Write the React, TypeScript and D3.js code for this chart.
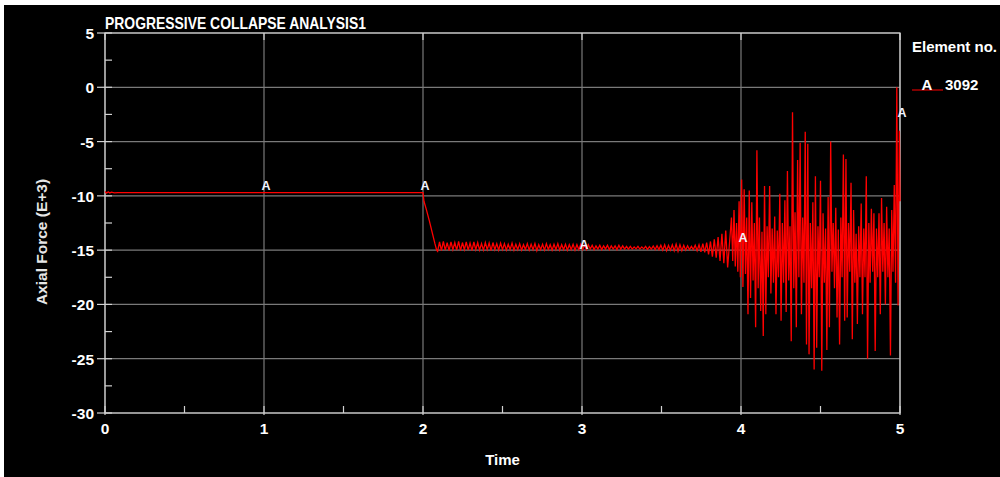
import React, { useEffect, useRef } from 'react';
import * as d3 from 'd3';

const chartTitle = 'PROGRESSIVE COLLAPSE ANALYSIS1';
const timeTicks = [0, 1, 2, 3, 4, 5];
const timeMinorTicks = [0.5, 1.5, 2.5, 3.5, 4.5];
const forceTicks = [5, 0, -5, -10, -15, -20, -25, -30];
const forceMinorTicks = [2.5, -2.5, -7.5, -12.5, -17.5, -22.5, -27.5];

// element 3092, axial force (E+3) vs time
const steadyTime = [0, 0.01, 0.02, 0.03, 0.04, 0.06, 0.08, 2.0];
const steadyForce = [-9.6, -9.75, -9.62, -9.74, -9.66, -9.72, -9.7, -9.7];

const dropTime = [2.0, 2.006, 2.02, 2.04, 2.06, 2.075, 2.086];
const dropForce = [-9.7, -10.5, -11.2, -12.3, -13.5, -14.4, -15.0];

// steady oscillation after removal, sampled every 0.012 s from 2.092 s
const oscStart = 2.092;
const oscStep = 0.012;
const oscForce = [
  -15.1, -14.25, -15.05, -14.2, -15.0, -14.3, -15.05, -14.25, -14.95, -14.3,
  -15.0, -14.2, -15.05, -14.3, -14.95, -14.25, -15.0, -14.35, -15.05, -14.25,
  -14.95, -14.3, -15.0, -14.4, -15.0, -14.3, -14.95, -14.35, -15.05, -14.3,
  -14.95, -14.4, -15.0, -14.35, -14.95, -14.4, -15.0, -14.45, -14.95, -14.35,
  -15.0, -14.45, -14.95, -14.4, -15.0, -14.5, -14.95, -14.4, -15.0, -14.45,
  -14.95, -14.4, -15.05, -14.5, -14.95, -14.45, -15.0, -14.4, -14.95, -14.5,
  -15.0, -14.45, -14.95, -14.4, -15.0, -14.5, -14.95, -14.45, -15.0, -14.5,
  -14.95, -14.45, -15.0, -14.5, -14.95, -14.45, -14.95, -14.55, -14.95, -14.5,
  -14.9, -14.55, -14.95, -14.6, -14.9, -14.55, -14.95, -14.6, -14.9, -14.55,
  -14.95, -14.6, -14.9, -14.6, -14.95, -14.55, -14.9, -14.6, -14.9, -14.65,
  -14.9, -14.65, -14.9, -14.7, -14.88, -14.65, -14.9, -14.7, -14.88, -14.65,
  -14.92, -14.68, -14.9, -14.62, -14.95, -14.6, -14.95, -14.55, -15.0, -14.5,
  -15.05, -14.55, -15.0, -14.5, -15.05, -14.45, -15.1, -14.5, -15.05, -14.55,
  -15.0, -14.6, -14.95, -14.65, -14.95, -14.55, -15.05, -14.5, -15.15, -14.4,
  -15.2, -14.3, -15.4, -14.2, -15.6, -14.0, -15.7, -13.8, -16.0, -13.5,
  -16.2, -13.2, -16.6,
];

// collapse response, sampled every 0.008 s from 3.94 s
const chaosStart = 3.94;
const chaosStep = 0.008;
const chaosForce = [
  -12.0, -16.0, -11.3, -16.5, -12.5, -17.0, -10.5, -17.5, -8.5, -18.4,
  -9.4, -17.2, -12.0, -20.9, -9.5, -19.4, -10.6, -17.8, -12.5, -22.1,
  -5.8, -18.5, -12.0, -20.6, -13.3, -22.9, -9.1, -20.9, -12.8, -17.5,
  -9.1, -19.0, -13.0, -18.0, -11.9, -20.9, -13.2, -17.5, -9.8, -21.5,
  -12.5, -18.0, -10.4, -20.7, -7.7, -17.8, -12.8, -23.4, -2.3, -18.5,
  -11.5, -22.1, -6.7, -17.5, -5.1, -20.9, -12.0, -18.0, -4.1, -23.7,
  -5.2, -24.6, -12.5, -18.5, -10.6, -26.0, -8.2, -24.0, -12.8, -17.5,
  -8.6, -26.1, -11.6, -18.0, -13.0, -24.2, -10.1, -22.1, -5.0, -17.0,
  -12.5, -18.5, -11.1, -21.2, -13.1, -23.7, -12.0, -17.5, -6.2, -21.5,
  -6.6, -21.2, -12.5, -17.0, -8.8, -23.2, -11.3, -18.0, -13.5, -21.8,
  -12.8, -17.5, -10.7, -20.9, -13.0, -17.5, -8.2, -25.0, -12.5, -18.0,
  -11.2, -17.0, -11.6, -24.3, -13.0, -17.5, -11.6, -20.9, -10.2, -17.0,
  -12.5, -20.0, -11.0, -17.5, -13.0, -24.7, -11.3, -17.0, -9.0, -18.0,
  0.0, -20.1, -4.0,
];
const endTime = 5.0;
const endForce = -10.5;

const markerLabel = 'A';
const markerTimes = [1, 2, 3, 4, 5];
const markerForces = [-9.4, -9.4, -14.8, -14.2, -2.6];

const legendTitle = 'Element no.';
const legendElement = '3092';

const FONT = '"Liberation Sans", Arial, sans-serif';

export default function App() {
  const svgRef = useRef<SVGSVGElement>(null);
  const width = 1000;
  const height = 477;
  const margin = { top: 33, right: 100, bottom: 65, left: 105 };

  useEffect(() => {
    if (!svgRef.current) return;
    const svg = d3.select(svgRef.current);
    svg.selectAll('*').remove();

    const x = d3.scaleLinear().domain([0, 5]).range([margin.left, width - margin.right]);
    const y = d3.scaleLinear().domain([-30, 5]).range([height - margin.bottom + 1, margin.top]);
    const [x0, x1] = x.range();
    const [y0, y1] = y.range();

    // background
    svg.append('rect').attr('x', 4).attr('y', 5).attr('width', 996).attr('height', 472).attr('fill', '#000');

    // grid
    const grid = svg.append('g').attr('stroke', '#7a7a7a').attr('stroke-width', 1.2);
    timeTicks.forEach((t) => {
      grid.append('line').attr('x1', x(t)).attr('x2', x(t)).attr('y1', y1).attr('y2', y0);
    });
    forceTicks.forEach((f) => {
      grid.append('line').attr('x1', x0).attr('x2', x1).attr('y1', y(f)).attr('y2', y(f));
    });

    // frame and ticks
    const frame = svg.append('g').attr('stroke', '#d2d2d2').attr('stroke-width', 1.2);
    frame.append('rect').attr('x', x0).attr('y', y1).attr('width', x1 - x0).attr('height', y0 - y1).attr('fill', 'none');
    timeTicks.forEach((t) => {
      frame.append('line').attr('x1', x(t)).attr('x2', x(t)).attr('y1', y0 - 7).attr('y2', y0 + 2);
      frame.append('line').attr('x1', x(t)).attr('x2', x(t)).attr('y1', y1).attr('y2', y1 + 7);
    });
    timeMinorTicks.forEach((t) => {
      frame.append('line').attr('x1', x(t)).attr('x2', x(t)).attr('y1', y0 - 7).attr('y2', y0);
    });
    forceTicks.forEach((f) => {
      frame.append('line').attr('x1', x0 - 8).attr('x2', x0 + 7).attr('y1', y(f)).attr('y2', y(f));
    });
    forceMinorTicks.forEach((f) => {
      frame.append('line').attr('x1', x0).attr('x2', x0 + 7).attr('y1', y(f)).attr('y2', y(f));
    });

    // tick labels
    svg.append('g')
      .selectAll('text')
      .data(timeTicks)
      .join('text')
      .attr('x', (d) => x(d))
      .attr('y', y0 + 21)
      .attr('text-anchor', 'middle')
      .text((d) => String(d));
    svg.append('g')
      .selectAll('text')
      .data(forceTicks)
      .join('text')
      .attr('x', x0 - 11)
      .attr('y', (d) => y(d) + 6)
      .attr('text-anchor', 'end')
      .text((d) => String(d));
    svg.selectAll('g text').attr('fill', '#fff').attr('font-family', FONT).attr('font-weight', 'bold').attr('font-size', 15.5);

    // series
    const points: [number, number][] = [];
    steadyTime.forEach((t, i) => points.push([t, steadyForce[i]]));
    dropTime.slice(1).forEach((t, i) => points.push([t, dropForce[i + 1]]));
    oscForce.forEach((v, i) => points.push([oscStart + i * oscStep, v]));
    chaosForce.forEach((v, i) => points.push([chaosStart + i * chaosStep, v]));
    points.push([endTime, endForce]);

    const line = d3.line<[number, number]>().x((d) => x(d[0])).y((d) => y(d[1]));
    svg.append('path')
      .datum(points)
      .attr('d', line)
      .attr('fill', 'none')
      .attr('stroke', '#ff0000')
      .attr('stroke-width', 1.3);

    // markers
    svg.append('g')
      .selectAll('text')
      .data(markerTimes)
      .join('text')
      .attr('x', (d) => x(d) + 2)
      .attr('y', (d, i) => y(markerForces[i]) + 1)
      .attr('text-anchor', 'middle')
      .attr('fill', '#f2f4ff')
      .attr('font-family', FONT)
      .attr('font-weight', 'bold')
      .attr('font-size', 12.5)
      .text(markerLabel);

    // titles
    svg.append('text')
      .attr('x', x0)
      .attr('y', 28.5)
      .attr('fill', '#fff')
      .attr('font-family', FONT)
      .attr('font-weight', 'bold')
      .attr('font-size', 16.5)
      .attr('textLength', 261)
      .attr('lengthAdjust', 'spacingAndGlyphs')
      .text(chartTitle);
    svg.append('text')
      .attr('x', (x0 + x1) / 2)
      .attr('y', 465)
      .attr('text-anchor', 'middle')
      .attr('fill', '#fff')
      .attr('font-family', FONT)
      .attr('font-weight', 'bold')
      .attr('font-size', 15)
      .text('Time');
    svg.append('text')
      .attr('transform', `translate(47,${(y0 + y1) / 2 + 19}) rotate(-90)`)
      .attr('text-anchor', 'middle')
      .attr('fill', '#e6e6e6')
      .attr('font-family', FONT)
      .attr('font-weight', 'bold')
      .attr('font-size', 15.5)
      .text('Axial Force (E+3)');

    // legend
    const legend = svg.append('g').attr('font-family', FONT).attr('font-weight', 'bold').attr('fill', '#fff');
    legend.append('text').attr('x', 912).attr('y', 52).attr('font-size', 15).text(legendTitle);
    legend.append('line').attr('x1', 912).attr('x2', 943).attr('y1', 90).attr('y2', 90).attr('stroke', '#ff0000').attr('stroke-width', 1);
    legend.append('text').attr('x', 927).attr('y', 90).attr('text-anchor', 'middle').attr('font-size', 15).text(markerLabel);
    legend.append('text').attr('x', 945).attr('y', 90).attr('font-size', 15).text(legendElement);
  }, []);

  return (
    <svg
      ref={svgRef}
      width={width}
      height={height}
      style={{ position: 'absolute', left: 0, top: 0, background: '#fff' }}
    />
  );
}
